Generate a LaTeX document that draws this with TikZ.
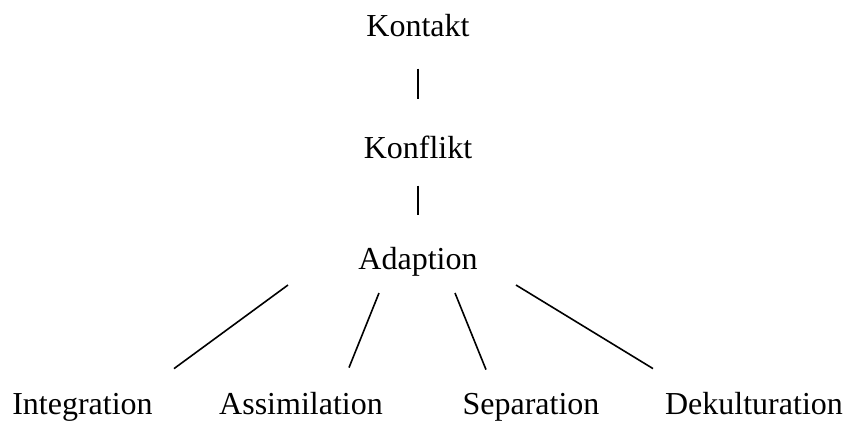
\documentclass[tikz,border=0pt]{standalone}
\usepackage{fontspec}
\setmainfont{Liberation Serif}
\usepackage{tikz}
\usetikzlibrary{positioning, calc}
\tikzset{
    stage/.style={
        anchor=base, inner sep=0pt, font=\fontsize{32}{38}\selectfont
    },
    link/.style={
        line width=1.6pt, black
    }
}

\begin{document}
\begin{tikzpicture}[x=1pt, y=-1pt]
    \useasboundingbox (0,0) rectangle (853,421);

    % --- Stufen ---
    \node[stage] (kontakt)  at (418,36)  {Kontakt};
    \node[stage] (konflikt) at (418,158) {Konflikt};
    \node[stage] (adaption) at (418,269) {Adaption};

    % --- Formen der Adaption ---
    \node[stage] (integration)   at (82.5,414) {Integration};
    \node[stage] (assimilation)  at (301,414)  {Assimilation};
    \node[stage] (separation)    at (531,414)  {Separation};
    \node[stage] (dekulturation) at (754,414)  {Dekulturation};

    % --- Verbindungen ---
    \draw[link, shorten <=32pt, shorten >=36pt] (kontakt.south) -- (konflikt.north);
    \draw[link, shorten <=27pt, shorten >=32pt] (konflikt.south) -- (adaption.north);

    \coordinate (a1) at ($(adaption.south)+(-130,9)$);
    \coordinate (a2) at ($(adaption.south)+(-39,17)$);
    \coordinate (a3) at ($(adaption.south)+(37,17)$);
    \coordinate (a4) at ($(adaption.south)+(98,9)$);
    \coordinate (b1) at ($(integration.north)+(91.5,-24)$);
    \coordinate (b2) at ($(assimilation.north)+(48,-24)$);
    \coordinate (b3) at ($(separation.north)+(-45,-23)$);
    \coordinate (b4) at ($(dekulturation.north)+(-101,-23)$);
    \draw[link] (a1) -- (b1);
    \draw[link] (a2) -- (b2);
    \draw[link] (a3) -- (b3);
    \draw[link] (a4) -- (b4);
\end{tikzpicture}
\end{document}
